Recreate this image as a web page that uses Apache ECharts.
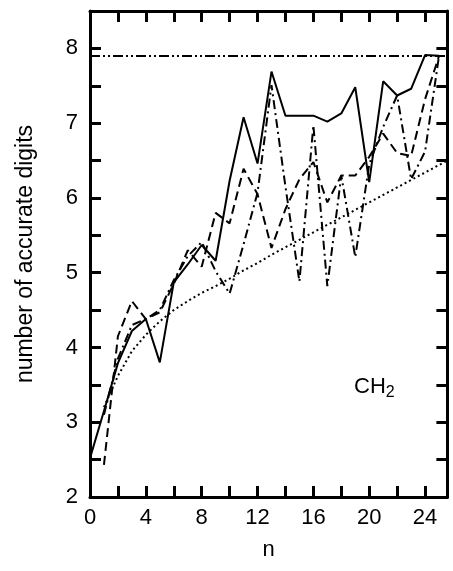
<!DOCTYPE html>
<html>
<head>
<meta charset="utf-8">
<script src="https://cdn.jsdelivr.net/npm/echarts@6/dist/echarts.min.js"></script>
<style>
html,body{margin:0;padding:0;background:#fff;}
#chart{width:453px;height:571px;}
</style>
</head>
<body>
<div id="chart"></div>
<script>
// ---- data ----
const nValues = [0,1,2,3,4,5,6,7,8,9,10,11,12,13,14,15,16,17,18,19,20,21,22,23,24,25];
const solidDigits   = [2.52,3.15,3.79,4.22,4.38,3.80,4.87,5.11,5.37,5.16,6.23,7.08,6.46,7.69,7.10,7.10,7.10,7.02,7.13,7.48,6.21,7.56,7.37,7.46,7.91,7.90];
const dashedDigits  = [null,2.43,4.15,4.62,4.38,4.47,4.85,5.30,5.08,5.80,5.66,6.39,6.05,5.33,5.85,6.25,6.48,5.94,6.30,6.30,6.55,6.86,6.60,6.56,7.32,7.90];
const dashDotDigits = [null,3.10,3.85,4.30,4.38,4.50,4.90,5.22,5.41,5.02,4.72,5.38,6.07,7.51,6.15,4.88,6.97,4.82,6.30,5.21,6.45,6.95,7.37,6.25,6.62,7.90];
const dottedN       = [1,2,3,4,5,6,7,8,9,10,11,12,13,14,15,16,17,18,19,20,21,22,23,24,25,25.6];
const dottedDigits  = [3.20,3.62,3.95,4.17,4.35,4.50,4.62,4.73,4.82,4.92,5.03,5.13,5.24,5.34,5.44,5.54,5.64,5.74,5.84,5.94,6.04,6.14,6.24,6.34,6.44,6.50];
const referenceLevel = 7.9;
const xLabelTicks = [0,4,8,12,16,20,24];
const yLabelTicks = [2,3,4,5,6,7,8];
const xTitle = 'n';
const yTitle = 'number of accurate digits';
const annotation = { main: 'CH', sub: '2' };

// ---- build ----
const pairs = (xs, ys) => xs.map((x, i) => [x, ys[i]]);
const FONT = 'Liberation Sans';
const FS = 22;
const tickStyle = { inside: true, length: 11, lineStyle: { color: '#000', width: 3 } };
const axisLineStyle = { show: true, onZero: false, lineStyle: { color: '#000', width: 3 } };

const xBase = { type: 'value', min: 0, max: 25.6, interval: 2, splitLine: { show: false },
  axisLine: axisLineStyle, axisTick: tickStyle };
const yBase = { type: 'value', min: 2, max: 8.5, interval: 0.5, splitLine: { show: false },
  axisLine: axisLineStyle, axisTick: tickStyle };

const lineSeries = (name, data, type, width) => ({
  name, type: 'line', data, symbol: 'none', connectNulls: false, silent: true,
  lineStyle: { color: '#000', width, type }, z: 3
});

const chart = echarts.init(document.getElementById('chart'), null, { renderer: 'canvas' });
chart.setOption({
  animation: false,
  backgroundColor: '#fff',
  textStyle: { fontFamily: FONT },
  grid: { left: 90, right: 5.6, top: 11, bottom: 74, containLabel: false },
  xAxis: [
    Object.assign({}, xBase, {
      position: 'bottom', name: xTitle, nameLocation: 'middle', nameGap: 42,
      nameTextStyle: { fontFamily: FONT, fontSize: FS, color: '#000' },
      axisLabel: { margin: 10, fontFamily: FONT, fontSize: FS, color: '#000',
        formatter: v => xLabelTicks.includes(v) ? String(v) : '' }
    }),
    Object.assign({}, xBase, { position: 'top', axisLabel: { show: false } })
  ],
  yAxis: [
    Object.assign({}, yBase, {
      position: 'left', name: yTitle, nameLocation: 'middle', nameGap: 53,
      nameTextStyle: { fontFamily: FONT, fontSize: 23, color: '#000' },
      axisLabel: { margin: 12, fontFamily: FONT, fontSize: FS, color: '#000',
        formatter: v => yLabelTicks.includes(v) ? String(v) : '' }
    }),
    Object.assign({}, yBase, { position: 'right', axisLabel: { show: false } })
  ],
  series: [
    Object.assign(lineSeries('solid', pairs(nValues, solidDigits), 'solid', 2), {
      markLine: { silent: true, symbol: 'none', label: { show: false },
        lineStyle: { color: '#000', width: 2, type: [10, 3, 2, 3, 2, 3] },
        data: [{ yAxis: referenceLevel }] }
    }),
    lineSeries('dashed', pairs(nValues, dashedDigits), [9, 5], 2),
    lineSeries('dashdot', pairs(nValues, dashDotDigits), [9, 4, 2, 4], 2),
    lineSeries('dotted', pairs(dottedN, dottedDigits), [2, 3], 2)
  ],
  graphic: [{
    type: 'text', x: 354, y: 387,
    style: {
      text: '{a|' + annotation.main + '}{b|' + annotation.sub + '}',
      verticalAlign: 'middle', fill: '#000',
      rich: {
        a: { fontFamily: FONT, fontSize: FS, fill: '#000' },
        b: { fontFamily: FONT, fontSize: 16, fill: '#000', padding: [12, 0, 0, 0] }
      }
    }
  }]
});
</script>
</body>
</html>
